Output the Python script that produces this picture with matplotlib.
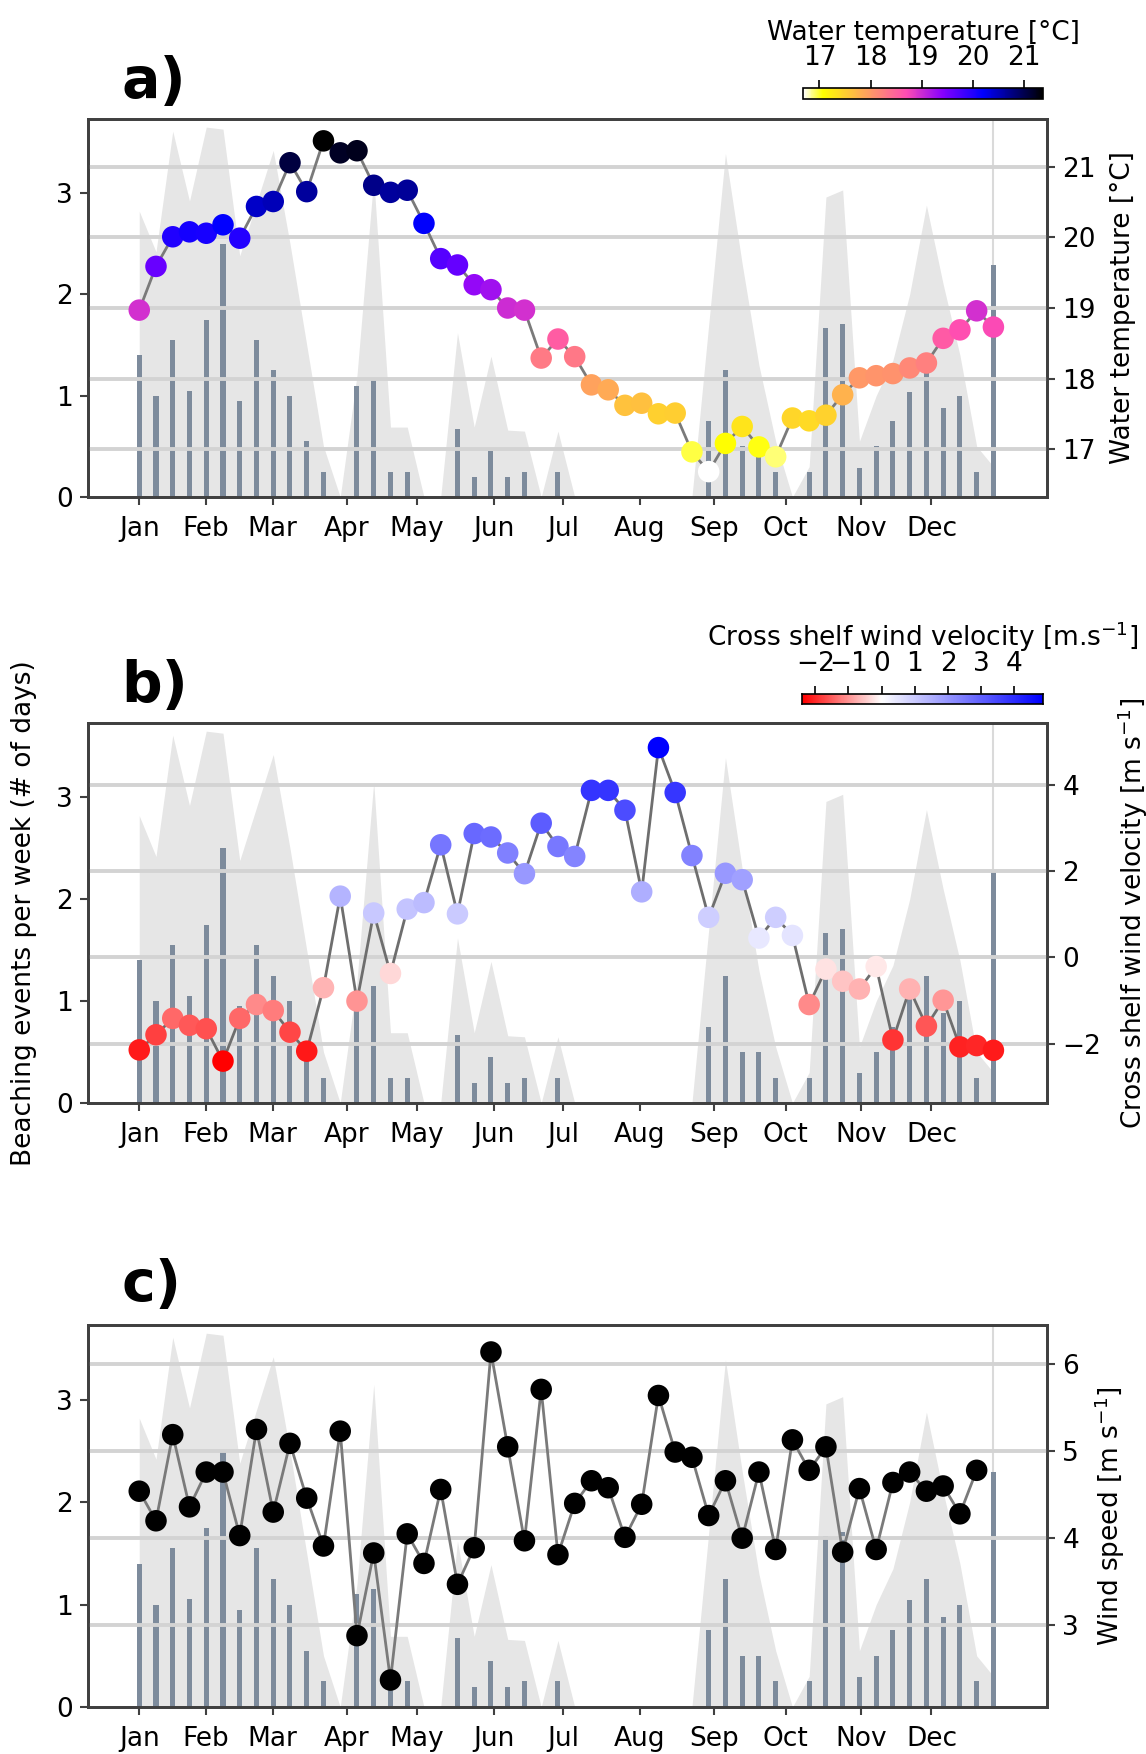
import numpy as np
import matplotlib
matplotlib.use("Agg")
import matplotlib.pyplot as plt
from matplotlib.colors import Normalize, TwoSlopeNorm

plt.rcParams['font.family'] = ['DejaVu Sans']
plt.rcParams['font.size'] = 19

# weekly data (week index 0..51)
weeks = np.arange(52)
months = ['Jan', 'Feb', 'Mar', 'Apr', 'May', 'Jun', 'Jul', 'Aug', 'Sep', 'Oct', 'Nov', 'Dec']
month_pos = [0, 3.98, 7.96, 12.38, 16.58, 21.17, 25.3, 29.9, 34.3, 38.6, 43.1, 47.3]

# beaching events per week (mean) and upper envelope
beach_mean = [1.4, 1.0, 1.55, 1.05, 1.75, 2.5, 0.95, 1.55, 1.25, 1.0, 0.55, 0.25,
              0.0, 1.1, 1.15, 0.25, 0.25, 0.0, 0.0, 0.67, 0.2, 0.45, 0.2, 0.25,
              0.0, 0.25, 0.0, 0.0, 0.0, 0.0, 0.0, 0.0, 0.0, 0.0, 0.75, 1.25,
              0.5, 0.5, 0.25, 0.0, 0.25, 1.67, 1.71, 0.29, 0.5, 0.75, 1.04, 1.25,
              0.88, 1.0, 0.25, 2.29]
beach_hi = [2.82, 2.42, 3.61, 2.92, 3.65, 3.63, 2.38, 2.9, 3.42, 2.5, 1.5, 0.5,
            0.0, 1.2, 3.15, 0.69, 0.69, 0.0, 0.0, 1.62, 0.69, 1.39, 0.66, 0.65,
            0.0, 0.65, 0.0, 0.0, 0.0, 0.0, 0.0, 0.0, 0.0, 0.0, 1.7, 3.39,
            2.3, 1.3, 0.55, 0.0, 0.3, 2.96, 3.03, 0.55, 1.0, 1.35, 2.0, 2.88,
            2.1, 1.4, 0.5, 0.3]
end_spike = 3.72

water_temp = [18.97, 19.59, 20.01, 20.08, 20.06, 20.18, 19.99, 20.44, 20.51, 21.06,
              20.65, 21.37, 21.2, 21.23, 20.74, 20.64, 20.67, 20.2, 19.7, 19.61,
              19.33, 19.26, 19.0, 18.97, 18.29, 18.56, 18.31, 17.91, 17.84, 17.62,
              17.65, 17.5, 17.51, 16.96, 16.68, 17.08, 17.32, 17.03, 16.89, 17.44,
              17.4, 17.48, 17.77, 18.01, 18.04, 18.07, 18.15, 18.22, 18.57, 18.69,
              18.96, 18.73]

cross_wind = [-2.14, -1.79, -1.41, -1.57, -1.65, -2.4, -1.41, -1.09, -1.23, -1.73,
              -2.17, -0.7, 1.42, -1.01, 1.03, -0.37, 1.12, 1.27, 2.61, 1.01,
              2.87, 2.79, 2.42, 1.94, 3.11, 2.57, 2.34, 3.87, 3.87, 3.41,
              1.52, 4.86, 3.82, 2.36, 0.93, 1.95, 1.8, 0.45, 0.93, 0.51,
              -1.09, -0.27, -0.55, -0.73, -0.21, -1.91, -0.73, -1.59, -0.99, -2.07,
              -2.04, -2.15]

wind_speed = [4.54, 4.2, 5.19, 4.36, 4.76, 4.76, 4.03, 5.25, 4.3, 5.09,
              4.46, 3.91, 5.23, 2.88, 3.83, 2.37, 4.05, 3.71, 4.56, 3.47,
              3.89, 6.14, 5.05, 3.97, 5.71, 3.81, 4.4, 4.66, 4.58, 4.01,
              4.39, 5.64, 4.99, 4.93, 4.26, 4.66, 4.0, 4.76, 3.87, 5.13,
              4.78, 5.05, 3.84, 4.57, 3.87, 4.64, 4.76, 4.54, 4.6, 4.28,
              4.78]

W, H = 1146, 1754
fig = plt.figure(figsize=(W / 100, H / 100), dpi=100)

SPINE = '#404040'
LINE = '#7a7a7a'
MS = 240


def rect(left, top, right, bottom):
    return [left / W, 1 - bottom / H, (right - left) / W, (bottom - top) / H]


def base_panel(r, ylim2, yticks2):
    ax = fig.add_axes(r)
    ax.fill_between(weeks, 0, beach_hi, color='#e6e6e6', lw=0, zorder=1)
    ax.vlines(weeks[-1], 0, end_spike, color='#dadada', lw=1.5, zorder=1)
    ax.bar(weeks, beach_mean, width=0.3, color='#7d8b9c', zorder=2)
    ax.set_xlim(-3.06, 54.2)
    ax.set_ylim(0, 3.73)
    ax.set_xticks(month_pos)
    ax.set_xticklabels(months)
    ax.set_yticks([0, 1, 2, 3])
    ax2 = ax.twinx()
    ax2.set_ylim(*ylim2)
    ax2.set_yticks(yticks2)
    ax2.grid(axis='y', color='#d3d3d3', lw=2.8)
    ax2.set_axisbelow(True)
    for a in (ax, ax2):
        for s in a.spines.values():
            s.set_linewidth(2)
            s.set_color(SPINE)
        a.tick_params(length=6, width=1.5, color=SPINE, labelsize=19, pad=5)
    ax.tick_params(axis='x', pad=8)
    return ax, ax2


# ---- panel a
ax_a, ax_a2 = base_panel(rect(88, 119, 1047, 497), (16.32, 21.68), [17, 18, 19, 20, 21])
norm_a = Normalize(vmin=min(water_temp), vmax=max(water_temp))
ax_a2.plot(weeks, water_temp, color=LINE, lw=2, zorder=3)
sc_a = ax_a2.scatter(weeks, water_temp, c=water_temp, cmap='gnuplot2_r', norm=norm_a,
                     s=MS, zorder=4, edgecolors='none')
ax_a2.set_ylabel('Water temperature [°C]', fontsize=19, labelpad=10)

cax_a = fig.add_axes(rect(803, 88, 1043, 99))
cb_a = fig.colorbar(sc_a, cax=cax_a, orientation='horizontal', ticks=[17, 18, 19, 20, 21])
cax_a.xaxis.set_ticks_position('top')
cax_a.xaxis.set_label_position('top')
cax_a.tick_params(length=6, width=1.2, labelsize=19, pad=6)
cb_a.set_label('Water temperature [°C]', fontsize=19, labelpad=4)
cb_a.outline.set_linewidth(1.2)

# ---- panel b
ax_b, ax_b2 = base_panel(rect(88, 723, 1047, 1103), (-3.37, 5.43), [-2, 0, 2, 4])
norm_b = TwoSlopeNorm(vmin=min(cross_wind), vcenter=0, vmax=max(cross_wind))
ax_b2.plot(weeks, cross_wind, color='#6e6e6e', lw=2, zorder=3)
ax_b2.scatter(weeks, cross_wind, c=cross_wind, cmap='bwr_r', norm=norm_b,
              s=MS, zorder=4, edgecolors='none')
ax_b2.set_ylabel('Cross shelf wind velocity [m s$^{-1}$]', fontsize=19, labelpad=10)
ax_b.set_ylabel('Beaching events per week (# of days)', fontsize=19, labelpad=14)

cax_b = fig.add_axes(rect(802, 694, 1043, 704))
grad = np.linspace(min(cross_wind), max(cross_wind), 400)
cax_b.imshow(grad[None, :], aspect='auto', cmap='bwr_r', norm=norm_b,
             extent=[grad[0], grad[-1], 0, 1])
cax_b.set_yticks([])
cax_b.set_xticks([-2, -1, 0, 1, 2, 3, 4])
cax_b.xaxis.set_ticks_position('top')
cax_b.xaxis.set_label_position('top')
cax_b.tick_params(length=6, width=1.2, labelsize=19, pad=6)
cax_b.set_xlabel('Cross shelf wind velocity [m.s$^{-1}$]', fontsize=19, labelpad=4)
for s in cax_b.spines.values():
    s.set_linewidth(1.2)

# ---- panel c
ax_c, ax_c2 = base_panel(rect(88, 1325, 1047, 1707), (2.06, 6.45), [3, 4, 5, 6])
wk_c = weeks[:len(wind_speed)]
ax_c2.plot(wk_c, wind_speed, color=LINE, lw=2, zorder=3)
ax_c2.scatter(wk_c, wind_speed, color='black', s=MS, zorder=4, edgecolors='none')
ax_c2.set_ylabel('Wind speed [m s$^{-1}$]', fontsize=19, labelpad=10)

# panel letters
for lab, ybase in [('a)', 98.5), ('b)', 701.7), ('c)', 1300.7)]:
    fig.text(121 / W, 1 - ybase / H, lab, fontsize=41, fontweight='bold',
             ha='left', va='baseline')

fig.savefig('out.png', dpi=100)
